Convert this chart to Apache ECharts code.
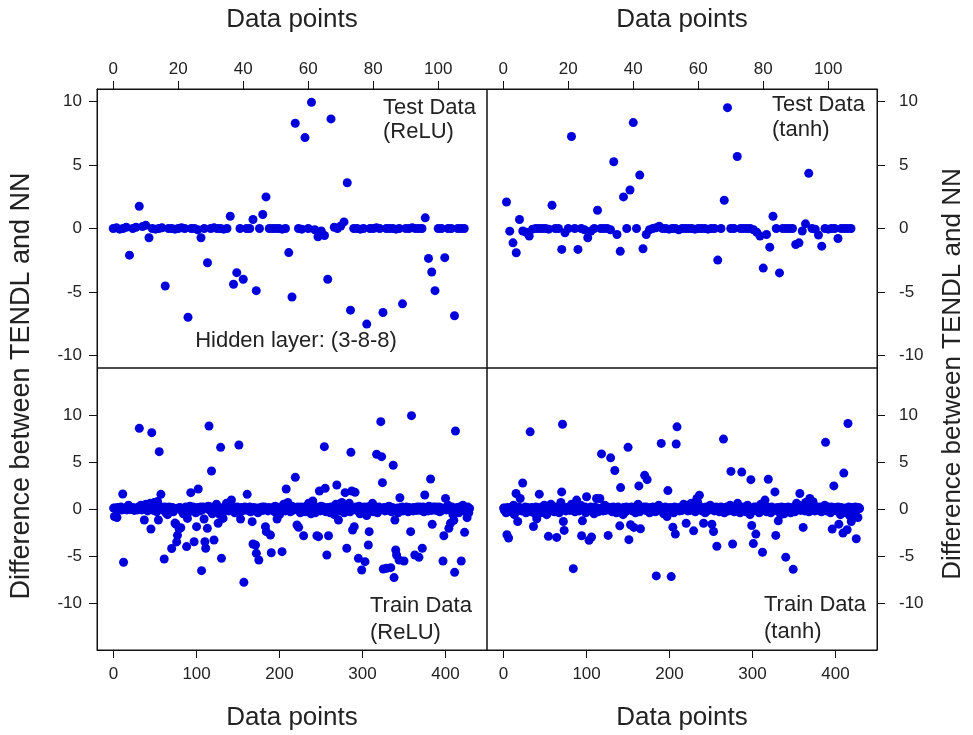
<!DOCTYPE html>
<html><head><meta charset="utf-8">
<script src="https://cdn.jsdelivr.net/npm/echarts@6/dist/echarts.min.js"></script>
<style>html,body{margin:0;padding:0;background:#fff}#c{width:973px;height:735px}</style>
</head><body><div id="c"></div>
<script>
// ---- tick labels ----
const topTicks = [0, 20, 40, 60, 80, 100];
const bottomTicks = [0, 100, 200, 300, 400];
const yTicks = [-10, -5, 0, 5, 10];

// ---- series values (index = data point number) ----
const testRelu = [
 0,.05,-.05,0,.1,-2.1,0,.1,1.75,.15,
 .25,-.73,0,-.05,0,.05,-4.53,0,0,-.05,
 0,.05,0,-7.0,0,0,-.1,-.73,0,-2.7,
 0,.05,0,0,-.05,0,.97,-4.4,-3.48,0,
 -4.0,0,0,.71,-4.9,0,1.1,2.49,0,0,
 0,0,-.05,0,-1.9,-5.4,8.3,0,-.05,7.17,
 0,9.95,-.1,-.65,-.2,-.55,-4.0,8.64,.1,0,
 .2,.52,3.61,-6.44,0,0,-.05,0,-7.54,0,
 0,.05,0,-6.62,0,0,0,-.05,0,-5.94,
 0,0,.05,0,0,0,.84,-2.36,-3.43,-4.9,
 0,0,-2.3,0,0,-6.88,0,0,0
];
const testTanh = [
 null,2.09,-.21,-1.13,-1.91,.71,-.2,-.3,-.6,-.05,
 0,0,0,0,-.05,1.83,0,0,-1.65,-.34,
 0,7.25,0,-1.65,0,-.1,-.73,-.2,0,1.44,
 0,0,0,-.1,5.26,-.47,-1.8,2.49,0,3.04,
 8.35,0,4.21,-1.6,-.47,-.1,0,.05,.18,0,
 0,-.05,0,0,-.1,0,0,0,0,-.05,
 0,0,0,-.05,0,0,-2.49,0,2.23,9.53,
 0,0,5.68,0,0,0,0,-.1,-.3,-.6,
 -3.12,-.47,-1.47,.97,0,-3.5,0,0,0,0,
 -1.26,-1.13,-.2,.37,4.35,0,-.05,-.52,-1.39,0,
 -.05,0,0,-.79,0,0,0,0
];
const trainRelu = [
 .1,-.8,.1,0,-.9,.15,-.1,.1,0,.2,
 -.1,1.6,-5.67,.05,0,.15,-.1,.05,.4,0,
 .1,-.05,0,.15,.05,-.15,.1,0,.05,-.1,
 .2,8.58,0,.4,-.1,.15,.3,-1.17,.1,.5,
 .15,-.2,.3,.05,.6,-2.13,8.12,.2,-.15,.7,
 .1,.2,-.3,.8,-1.17,6.1,.15,1.56,.2,-.1,
 .15,-5.32,.2,-.4,.1,-.6,.05,.2,-.15,.1,
 -4.2,.15,-.3,.05,-1.5,-1.6,-3.5,-2.8,.1,-2.1,
 .15,-2.0,-.2,.05,-.5,.1,-.15,.2,-4.0,-1.0,
 .15,-.3,.3,1.74,.1,-.15,.2,-3.48,.05,-.4,
 -1.88,.15,2.13,.05,-.2,.2,-6.56,-.1,.2,-1.06,
 -3.48,-4.18,.15,-2.06,.3,8.83,-.15,.2,4.04,-.5,
 .1,-3.3,.2,-.3,.5,-.1,-1.52,.15,-.6,6.56,
 -5.25,.1,-1.0,.05,.2,-.15,.6,.1,.3,-.2,
 .2,.5,.96,.15,-.1,.2,-.4,.05,-.15,.2,
 -.3,6.81,.1,-1.06,.15,-.2,.05,-7.8,.2,-.1,
 .15,1.56,-.15,.05,.2,-.3,.1,-1.35,-3.72,.15,
 -.2,-3.83,-4.72,.1,-.4,-5.43,.05,.15,-.1,.2,
 -.15,.1,.2,-1.88,-2.41,.05,-.2,.15,-.05,-2.77,
 -4.65,.1,-.15,.2,-.3,.3,.05,-1.06,-.4,.15,
 -.6,.1,.2,-4.54,-.15,.5,.05,-.2,2.13,.15,
 .7,-.1,.2,-.3,.05,.3,-.15,.1,-.05,3.37,
 .15,-1.7,.2,-1.95,.1,-.4,.2,-.1,.05,-2.84,
 .1,-.3,.3,-.15,.05,.6,-.1,.15,-.5,.2,
 .85,-.15,.1,-.4,.2,-2.84,.05,-2.94,1.91,-.2,
 .3,.1,-.15,.2,6.63,2.2,-.3,-4.89,.15,-2.84,
 .1,-.4,.2,.05,-.15,.2,-.6,.15,.5,2.55,
 .2,-1.17,.1,-.2,.05,.7,-.15,.2,-.4,1.74,
 .15,-4.18,.2,-.1,.6,-.3,6.03,1.91,-2.23,.1,
 -1.88,1.77,.2,-.15,.05,-5.25,.3,-.5,.1,-6.49,
 .15,-.2,.2,-5.6,.05,-.7,.2,-3.83,-2.41,.3,
 -.1,.15,.6,-.3,.1,-.15,.2,5.82,-.4,.05,
 .2,-.1,9.29,5.57,2.8,-6.38,.15,-.2,.1,-6.3,
 .2,-.15,.3,.05,-6.24,-.3,.15,4.65,-7.3,-1.17,
 -4.36,-4.89,.1,-.4,-5.43,1.2,.15,-.1,.2,-.2,
 -5.53,.1,-.15,.2,.05,-.3,.15,-.1,-2.41,9.93,
 .1,-.2,.15,-4.89,.05,-.15,.2,-.1,-5.14,.2,
 -.15,.1,-4.18,.2,-.3,1.49,.05,-.1,.15,-.2,
 .3,.1,3.19,-.15,-1.63,.2,-.1,.05,.2,-.15,
 .1,-.05,.2,-.3,.15,.05,-.15,-5.53,-2.84,.1,
 1.13,-.1,.15,.4,-2.06,.1,-1.52,-.2,.2,-.6,
 -1.2,-6.74,8.3,-.3,.15,.05,-.4,.2,-.1,-5.53,
 .1,.4,-.2,-2.48,.15,-.1,-.92,.2,-.4,.05
];
const trainTanh = [
 .1,-.15,.1,-.4,-2.74,.15,-3.09,-.2,.1,-.3,
 .2,-.1,.4,-.6,.15,1.65,.05,-1.33,.2,-.15,
 1.12,.1,-.2,2.77,.05,-.1,.2,-.4,.1,.15,
 -.15,.05,8.21,-.3,.15,-.1,-1.86,.1,-.5,.2,
 -1.05,.15,-.2,1.58,.1,-.4,.2,-.15,.05,.4,
 -.1,.2,-.6,.1,-2.91,.15,-.2,.5,.05,-.15,
 .1,-.3,.2,.05,-3.02,-.1,.15,-.4,.2,.7,
 1.82,9.02,-1.33,-2.28,.1,-.2,.15,-.1,.05,.2,
 -.15,.1,.5,-.05,-6.35,.15,-.3,.1,.95,-.1,
 .05,-.2,.15,.4,-2.84,-1.26,.1,-.15,.2,-.4,
 1.3,.1,-.2,-3.33,.05,.2,-2.98,-.1,.15,-.5,
 .2,-.15,1.12,.1,-.3,.05,1.12,-.1,5.86,.15,
 -.2,.1,.4,-.15,.05,.2,-2.81,-.1,.15,5.44,
 .1,-.3,.2,-.05,4.1,.15,-.4,.1,.2,-.15,
 -1.79,2.28,-.2,.1,-.6,.15,.05,-.3,.2,-.1,
 6.56,-3.26,.15,-1.68,.2,-.2,.1,-1.96,.05,-.4,
 .2,-.1,.5,2.46,-.3,-2.11,.15,-.05,.1,.2,
 3.58,-.15,.2,3.12,-.1,.05,-.4,.15,.1,-.2,
 .2,-.1,.05,-.3,-7.12,.15,-.15,.4,-.1,.1,
 6.98,-.2,.15,-.5,.05,.2,-.15,-.8,1.96,.1,
 -.3,.15,-7.19,.05,-1.93,-.4,.2,-2.67,6.91,8.74,
 -.1,.15,-.2,.05,.2,-.15,.1,.5,-.05,.2,
 -1.51,.1,-.2,.4,.05,-.15,.6,.15,-.1,-2.32,
 .2,-.3,.1,1.12,.7,.15,1.47,-.1,.05,-.2,
 .15,-1.51,.1,-.4,.2,.05,-.15,.2,-.1,.4,
 .1,-1.61,.15,-2.39,-.2,.05,.2,-3.96,-.1,.15,
 -.3,.1,.2,-.15,.05,7.44,-.4,.15,-.1,.2,
 .1,-.2,.05,.4,4.0,-.15,-3.72,.1,-.3,.2,
 .05,-.1,.6,-.2,.15,-.4,.1,3.93,-.15,.2,
 -.05,.15,-.3,.1,.4,-.15,.05,-.6,3.12,-1.75,
 .1,-3.68,.2,-.15,-2.67,.2,-.1,.05,-.4,.15,
 .5,-.2,-4.6,.1,-.15,.95,.05,-.3,.2,3.16,
 -.1,.15,-.4,.2,.05,-.2,.1,1.82,-2.81,-.15,
 .15,-1.26,-.3,.1,-.6,.2,-.4,.05,-.5,.15,
 -5.12,.1,-.2,.2,-.1,.05,-.4,.15,-.15,-6.42,
 .1,-.3,.2,.6,-.1,.15,.4,1.65,-.15,.1,
 .2,-1.96,.05,-.2,.7,.15,-.1,.2,-.3,1.12,
 .1,.4,-.15,.77,.05,-.2,.15,-.1,.2,.05,
 -.15,.1,.2,-.3,.05,.15,-.1,.4,7.09,-.2,
 .1,.2,-.15,.05,-.4,.2,-2.14,.1,2.46,-.1,
 .15,-.2,.05,.2,-1.61,.1,-.6,.15,-.3,-2.56,
 3.82,-.15,.1,-.4,-2.21,9.09,.2,-.7,.05,-1.33,
 .15,-.2,.1,-.5,.2,-3.16,-.1,-.91,.15,.05
];

const FONT = '"Liberation Sans", Arial, sans-serif';
const TXT = '#222';
const DOT = '#0000dc';
const toPts = arr => arr.map((v, i) => v === null ? null : [i, v]).filter(p => p);

const grids = [
  {left: 97, top: 89, width: 390, height: 279},
  {left: 487, top: 89, width: 390, height: 279},
  {left: 97, top: 368, width: 390, height: 282},
  {left: 487, top: 368, width: 390, height: 282}
].map(g => Object.assign(g, {show: true, borderColor: '#111', borderWidth: 1, containLabel: false}));

function xAx(gi, pos, min, max, ticks, margin) {
  return {
    type: 'value', gridIndex: gi, position: pos, min: min, max: max,
    axisLine: {show: true, onZero: false, lineStyle: {color: '#111', width: 1}},
    axisTick: {show: true, inside: false, length: 8, lineStyle: {color: '#111'}, customValues: ticks},
    axisLabel: {show: true, customValues: ticks, margin: margin, color: TXT, fontSize: 17, fontFamily: FONT},
    splitLine: {show: false}
  };
}
function yAx(gi, pos, min, max, margin) {
  return {
    type: 'value', gridIndex: gi, position: pos, min: min, max: max,
    axisLine: {show: true, onZero: false, lineStyle: {color: '#111', width: 1}},
    axisTick: {show: true, inside: false, length: 8, lineStyle: {color: '#111'}, customValues: yTicks},
    axisLabel: {show: true, customValues: yTicks, margin: margin, color: TXT, fontSize: 17, fontFamily: FONT},
    splitLine: {show: false}
  };
}

const txt = (text, x, y, size, align, rot) => ({
  type: 'text', x: x, y: y, rotation: rot || 0,
  style: {text: text, fill: TXT, fontSize: size, fontFamily: FONT, align: align || 'left', verticalAlign: 'middle'}
});

const option = {
  animation: false,
  backgroundColor: '#fff',
  grid: grids,
  xAxis: [
    xAx(0, 'top', -5, 115, topTicks, 11),
    xAx(1, 'top', -5, 115, topTicks, 11),
    xAx(2, 'bottom', -20, 450, bottomTicks, 16),
    xAx(3, 'bottom', -20, 450, bottomTicks, 16)
  ],
  yAxis: [
    yAx(0, 'left', -11, 11, 15),
    yAx(1, 'right', -11, 11, 22),
    yAx(2, 'left', -15, 15, 15),
    yAx(3, 'right', -15, 15, 22)
  ],
  series: [testRelu, testTanh, trainRelu, trainTanh].map((arr, i) => ({
    type: 'scatter', xAxisIndex: i, yAxisIndex: i, data: toPts(arr),
    symbol: 'circle', symbolSize: 9, itemStyle: {color: DOT, opacity: 1}, silent: true
  })),
  graphic: [
    txt('Data points', 292, 20, 26, 'center'),
    txt('Data points', 682, 20, 26, 'center'),
    txt('Data points', 292, 718, 26, 'center'),
    txt('Data points', 682, 718, 26, 'center'),
    txt('Difference between TENDL and NN', 22, 386, 27, 'center', Math.PI / 2),
    txt('Difference between TENDL and NN', 953, 374, 26, 'center', Math.PI / 2),
    txt('Test Data', 383, 108, 22),
    txt('(ReLU)', 383, 132, 22),
    txt('Test Data', 772, 105, 22),
    txt('(tanh)', 772, 130, 22),
    txt('Train Data', 370, 606, 22),
    txt('(ReLU)', 370, 633, 22),
    txt('Train Data', 764, 605, 22),
    txt('(tanh)', 764, 632, 22),
    txt('Hidden layer: (3-8-8)', 296, 341, 22, 'center')
  ]
};
echarts.init(document.getElementById('c'), null, {renderer: 'canvas'}).setOption(option);
</script>
</body></html>
